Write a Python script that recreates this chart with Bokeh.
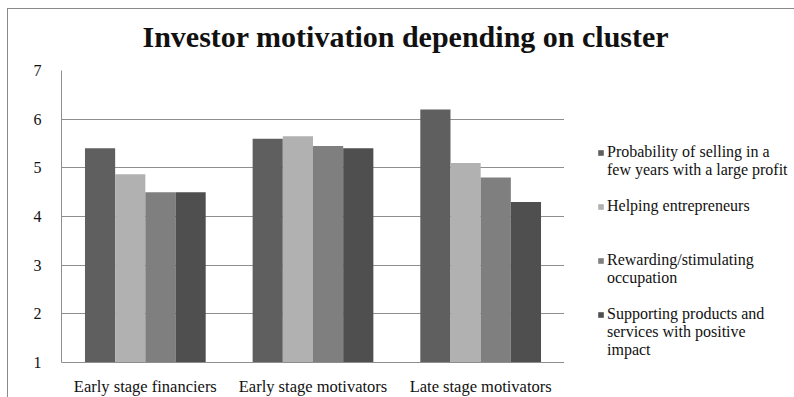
from bokeh.plotting import figure
from bokeh.layouts import column, row
from bokeh.models import Legend, LegendItem, Title
from bokeh.transform import dodge
from bokeh.embed import file_html
from bokeh.resources import INLINE

clusters = ["Early stage financiers", "Early stage motivators", "Late stage motivators"]
motives = [
    ["Probability of selling in a", "few years with a large profit"],
    ["Helping entrepreneurs"],
    ["Rewarding/stimulating", "occupation"],
    ["Supporting products and", "services with positive", "impact"],
]
selling_profit = [5.4, 5.6, 6.2]
helping_entrepreneurs = [4.87, 5.65, 5.1]
rewarding_occupation = [4.5, 5.45, 4.8]
positive_impact = [4.5, 5.4, 4.3]
y_ticks = [1, 2, 3, 4, 5, 6, 7]

series = [selling_profit, helping_entrepreneurs, rewarding_occupation, positive_impact]
colors = ["#5f5f5f", "#b1b1b1", "#7f7f7f", "#4f4f4f"]
offsets = [-0.27, -0.09, 0.09, 0.27]
gap_rows = [1, 2, 1, 0]  # blank legend rows after each entry
serif = "Liberation Serif"
ink = "#111111"


def bare(fig):
    fig.outline_line_color = None
    fig.background_fill_color = "white"
    fig.border_fill_color = "white"
    fig.xgrid.visible = False
    fig.ygrid.visible = False


# title strip
head = figure(width=787, height=50, output_backend="svg", toolbar_location=None,
              x_axis_location=None, y_axis_location=None,
              min_border_left=0, min_border_right=0,
              min_border_top=43, min_border_bottom=0)
head.title = Title(
    text="Investor motivation depending on cluster",
    text_font=serif, text_font_size="30px", text_font_style="bold",
    text_color=ink, align="left", offset=134, standoff=0,
)
bare(head)

# grouped bar chart
p = figure(
    x_range=clusters, y_range=(1, 7),
    width=556, height=339,
    output_backend="svg", toolbar_location=None,
    min_border_left=53, min_border_right=0,
    min_border_top=11, min_border_bottom=31,
)
p.outline_line_color = None
p.background_fill_color = "white"
p.border_fill_color = "white"

# legend panel
side = figure(width=231, height=339, x_range=(0, 1), y_range=(0, 1),
              output_backend="svg", toolbar_location=None,
              x_axis_location=None, y_axis_location=None, min_border=0)
bare(side)

items = []
for vals, col, off, lines, gaps in zip(series, colors, offsets, motives, gap_rows):
    p.vbar(
        x=dodge("cluster", off, range=p.x_range), top="value", bottom=1,
        width=0.18, color=col, line_color=None,
        source={"cluster": clusters, "value": vals},
    )
    # hidden twin of the series, only used for its legend swatch
    swatch = side.vbar(x=vals, top=vals, width=0.1, color=col,
                       line_color=None, visible=False)
    # first line carries the swatch, wrapped lines and gaps are text-only rows
    items.append(LegendItem(label=lines[0], renderers=[swatch]))
    for extra in lines[1:]:
        items.append(LegendItem(label=extra, renderers=[]))
    for _ in range(gaps):
        items.append(LegendItem(label=" ", renderers=[]))

legend = Legend(
    items=items, location=(33, 3),
    label_text_font=serif, label_text_font_size="16px", label_text_color=ink,
    label_height=18, glyph_width=7, glyph_height=7, label_standoff=3,
    spacing=0, padding=0, margin=0,
    border_line_color=None, background_fill_alpha=0,
)
side.add_layout(legend, "center")

p.xgrid.grid_line_color = None
p.ygrid.grid_line_color = "#8e8e8e"
p.yaxis.ticker = y_ticks
p.yaxis.axis_line_color = "#8e8e8e"
p.xaxis.axis_line_color = "#8e8e8e"
for ax in (p.xaxis, p.yaxis):
    ax.major_tick_line_color = None
    ax.minor_tick_line_color = None
    ax.major_label_text_font = serif
    ax.major_label_text_color = ink
p.yaxis.major_label_text_font_size = "16px"
p.xaxis.major_label_text_font_size = "16.5px"
p.yaxis.major_label_standoff = 14
p.xaxis.major_label_standoff = 8
p.x_range.range_padding = 0

page = column(
    head, row(p, side, spacing=0), spacing=0,
    margin=(8, 0, 0, 7),
    styles={"border-top": "1px solid #8a8a8a", "border-left": "1px solid #8a8a8a"},
)

open("out.html", "w").write(file_html(page, INLINE))
